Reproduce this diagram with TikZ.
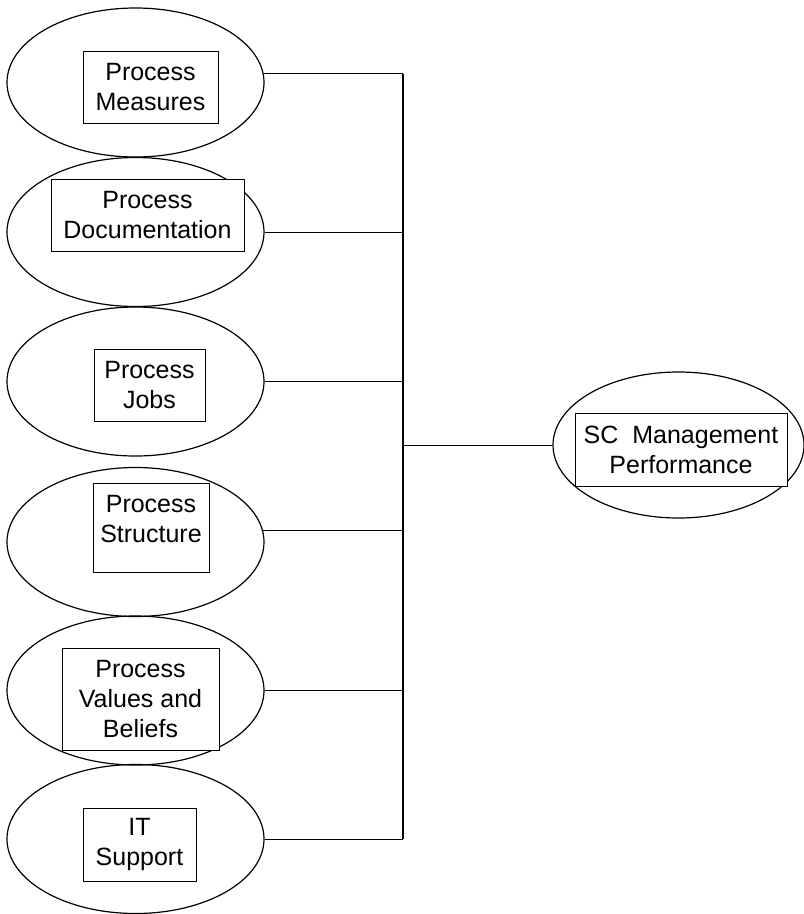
\documentclass[tikz,border=0pt]{standalone}
\usepackage{fontspec}
\setmainfont{Liberation Sans}
\usetikzlibrary{shapes.geometric}
\begin{document}
\begin{tikzpicture}[x=1pt,y=-1pt,
  oval/.style={draw, ellipse, line width=1.2pt, inner sep=0pt,
    minimum width=257pt, minimum height=149pt},
  label box/.style={draw, fill=white, line width=0.8pt, inner sep=0pt,
    align=center, font=\fontsize{25}{30}\selectfont},
  link/.style={line width=1pt},
  bus line/.style={line width=1.6pt}]
\useasboundingbox (0,0) rectangle (804,914);

% factor ellipses
\node[oval] (e1) at (135.5,82.5) {};
\node[oval] (e2) at (135.5,232) {};
\node[oval] (e3) at (135.5,381.5) {};
\node[oval] (e4) at (135.5,542) {};
\node[oval] (e5) at (135.5,690.5) {};
\node[oval] (e6) at (135.5,839) {};
\node[oval, minimum width=251pt, minimum height=146pt] (sc) at (678.5,445) {};

% labels in boxes
\node[label box, minimum width=135pt, minimum height=72pt] (b1) at (150.5,87) {Process\\Measures};
\node[label box, minimum width=193pt, minimum height=72pt] (b2) at (147.5,215) {Process\\Documentation};
\node[label box, minimum width=111pt, minimum height=72pt] (b3) at (149.5,385) {Process\\Jobs};
\node[label box, minimum width=116pt, minimum height=89pt] (b4) at (151,527.5) {Process\\Structure\\[-12pt]\mbox{}};
\node[label box, minimum width=157pt, minimum height=102pt] (b5) at (140.5,699) {Process\\Values and\\Beliefs};
\node[label box, minimum width=113pt, minimum height=73pt] (b6) at (139.5,844.5) {IT\\Support};
\node[label box, minimum width=212pt, minimum height=73pt] (bsc) at (681,449.5) {SC\ \ Management\\Performance};

% collecting bus
\coordinate (bus) at (403,445);
\draw[link] (e1.4.7) -- (e1.4.7 -| bus);
\draw[link] (e2.0) -- (e2.0 -| bus);
\draw[link] (e3.0.7) -- (e3.0.7 -| bus);
\draw[link] (e4.5.9) -- (e4.5.9 -| bus);
\draw[link] (e5.0) -- (e5.0 -| bus);
\draw[link] (e6.-0.4) -- (e6.-0.4 -| bus);
\draw[bus line] (e1.4.7 -| bus) -- (e6.-0.4 -| bus);
\draw[link] (bus) -- (sc.west);
\end{tikzpicture}
\end{document}
